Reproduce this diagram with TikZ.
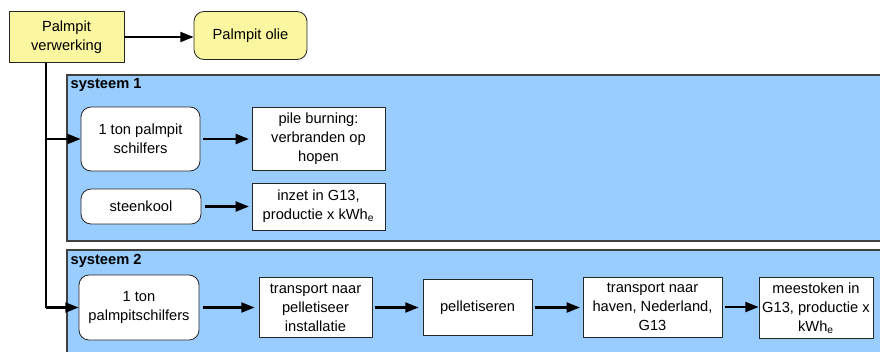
\documentclass[tikz,border=0pt]{standalone}
\usepackage{fontspec}
\setmainfont{Liberation Sans}
\usetikzlibrary{arrows.meta}
\definecolor{panelblue}{HTML}{99CCFF}
\definecolor{paleyellow}{HTML}{FAF7A0}
\begin{document}
\begin{tikzpicture}[x=0.75pt,y=-0.75pt,
  every node/.style={font=\fontsize{11}{14.2}\selectfont, align=center, inner sep=1pt},
  box/.style={draw=black!85, line width=0.6pt, fill=white, minimum width=#1},
  rbox/.style={box=#1, rounded corners=7.5pt},
  flow/.style={line width=1.6pt, -{Triangle[length=10pt,width=7.5pt]}},
  panel/.style={draw=black!75, line width=0.8pt, fill=panelblue},
  paneltitle/.style={anchor=west, font=\fontsize{11}{13}\selectfont\bfseries}
]
\useasboundingbox (0,0) rectangle (880,351);
\clip (0,0) rectangle (880,351);

% system panels (run off the right and bottom edges)
\draw[panel] (67,75) rectangle (884,241);
\draw[panel] (67,250) rectangle (884,358);
\node[paneltitle] (t1) at (69,85) {systeem 1};
\node[paneltitle] (t2) at (69,261) {systeem 2};

% top row
\node[box=86.25pt, minimum height=38.25pt, fill=paleyellow] (pv) at (66.5,37) {Palmpit\\verwerking};
\node[rbox=84.75pt, minimum height=36pt, fill=paleyellow] (po) at (250.5,35.5) {Palmpit olie};

% systeem 1
\node[rbox=89.25pt, minimum height=48pt] (s1a) at (140.5,139) {1 ton palmpit\\schilfers};
\node[box=99.75pt, minimum height=47.25pt] (s1b) at (318.5,139) {pile burning:\\verbranden op\\hopen};
\node[rbox=90pt, minimum height=26.25pt] (s1c) at (141,206.5) {steenkool};
\node[box=99.75pt, minimum height=35.25pt] (s1d) at (318.5,206.5) {inzet in G13,\\productie x kWh\textsubscript{e}};

% systeem 2
\node[rbox=90pt, minimum height=48.75pt] (s2a) at (139,307.5) {1 ton\\palmpitschilfers};
\node[box=84.75pt, minimum height=45pt] (s2b) at (315.5,307.5) {transport naar\\pelletiseer\\installatie};
\node[box=81.75pt, minimum height=42pt] (s2c) at (477.5,307.5) {pelletiseren};
\node[box=104.25pt, minimum height=45pt] (s2d) at (652.5,307) {transport naar\\haven, Nederland,\\G13};
\node[box=85.5pt, minimum height=45.75pt] (s2e) at (816,308) {meestoken in\\G13, productie x\\kWh\textsubscript{e}};

% trunk line from the processing box down to both systems
\coordinate (trunk) at (46,307.5);
\draw[line width=0.8pt] (pv.south -| trunk) -- (trunk);
\draw[flow] (trunk |- s1a) -- (s1a.west);
\draw[flow] (trunk) -- (s2a.west);

% horizontal flows
\draw[flow] (pv.east) -- (po.west |- pv.east);
\draw[flow, shorten <=2pt, shorten >=2pt] (s1a.east) -- (s1b.west |- s1a.east);
\draw[flow, shorten <=3pt, shorten >=2pt] (s1c.east) -- (s1d.west |- s1c.east);
\draw[flow, shorten <=3pt, shorten >=3pt] (s2a.east) -- (s2b.west |- s2a.east);
\draw[flow, shorten <=2pt, shorten >=3pt] (s2b.east) -- (s2c.west |- s2b.east);
\draw[flow, shorten <=2pt, shorten >=2pt] (s2c.east) -- (s2d.west |- s2c.east);
\draw[flow, shorten <=2pt, shorten >=0pt] (s2d.east) -- (s2e.west |- s2d.east);
\end{tikzpicture}
\end{document}
